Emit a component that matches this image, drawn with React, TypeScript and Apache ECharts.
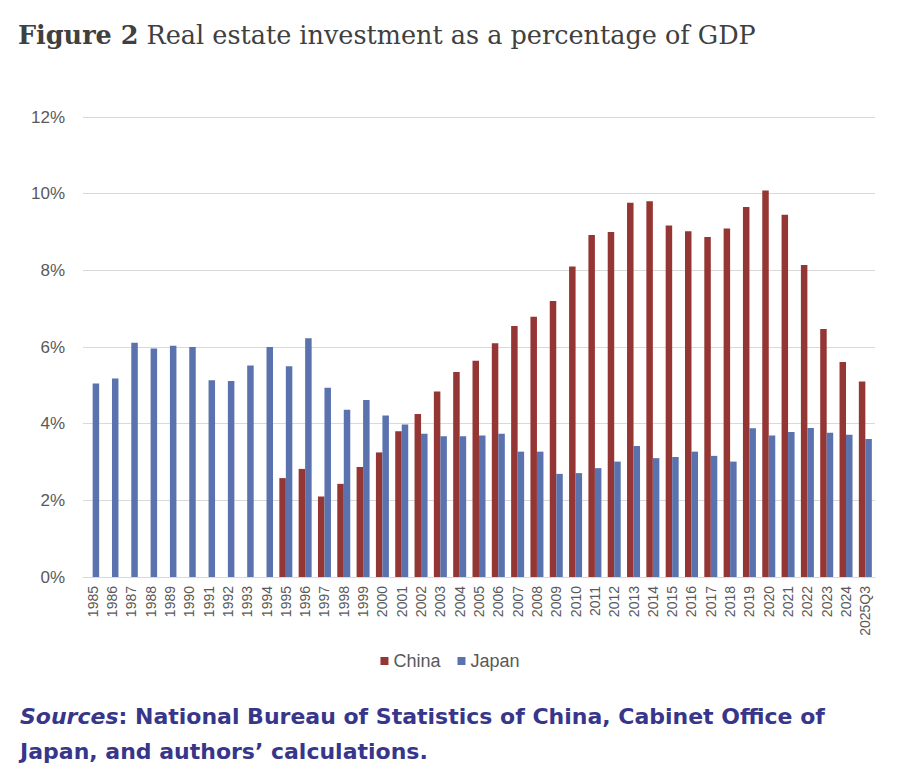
import React, { useEffect, useRef } from "react";
import * as echarts from "echarts";

const categories = [
  "1985", "1986", "1987", "1988", "1989", "1990", "1991", "1992", "1993", "1994",
  "1995", "1996", "1997", "1998", "1999", "2000", "2001", "2002", "2003", "2004",
  "2005", "2006", "2007", "2008", "2009", "2010", "2011", "2012", "2013", "2014",
  "2015", "2016", "2017", "2018", "2019", "2020", "2021", "2022", "2023", "2024",
  "2025Q3",
];

const china: (number | null)[] = [
  null, null, null, null, null, null, null, null, null, null,
  2.58, 2.82, 2.1, 2.43, 2.87, 3.25, 3.8, 4.25, 4.84, 5.35,
  5.64, 6.1, 6.55, 6.79, 7.2, 8.1, 8.92, 9.0, 9.76, 9.8,
  9.17, 9.02, 8.87, 9.09, 9.65, 10.08, 9.45, 8.14, 6.47, 5.61,
  5.1,
];

const japan: number[] = [
  5.05, 5.18, 6.11, 5.96, 6.03, 6.0, 5.13, 5.11, 5.52, 6.0,
  5.5, 6.23, 4.94, 4.36, 4.62, 4.21, 3.98, 3.74, 3.67, 3.67,
  3.69, 3.74, 3.27, 3.27, 2.69, 2.71, 2.84, 3.01, 3.42, 3.1,
  3.13, 3.27, 3.16, 3.01, 3.88, 3.69, 3.78, 3.89, 3.76, 3.71,
  3.6,
];

const yTicks = [0, 2, 4, 6, 8, 10, 12];

export default function App() {
  const ref = useRef<HTMLDivElement>(null);
  useEffect(() => {
    if (!ref.current) return;
    const chart = echarts.init(ref.current, undefined, { renderer: "svg" });
    chart.setOption({
      animation: false,
      backgroundColor: "#ffffff",
      grid: { left: 83, right: 25, top: 117, bottom: 205, containLabel: false },
      legend: {
        data: ["China", "Japan"],
        bottom: 107,
        left: "center",
        itemWidth: 8,
        itemHeight: 8,
        itemGap: 17,
        icon: "rect",
        textStyle: { color: "#595959", fontSize: 18, fontFamily: "Liberation Sans" },
      },
      xAxis: {
        type: "category",
        data: categories,
        axisLine: { lineStyle: { color: "#d9d9d9", width: 1 } },
        axisTick: { show: false },
        axisLabel: {
          rotate: 90,
          interval: 0,
          color: "#595959",
          fontSize: 14,
          fontFamily: "Liberation Sans",
          margin: 9,
        },
      },
      yAxis: {
        type: "value",
        min: yTicks[0],
        max: yTicks[yTicks.length - 1],
        interval: 2,
        axisLine: { show: false },
        axisTick: { show: false },
        splitLine: { lineStyle: { color: "#d9d9d9", width: 1 } },
        axisLabel: {
          formatter: (v: number) => `${v}%`,
          color: "#595959",
          fontSize: 17,
          fontFamily: "Liberation Sans",
          margin: 18,
        },
      },
      series: [
        {
          name: "China",
          type: "bar",
          data: china,
          barWidth: 6.5,
          barGap: "0%",
          itemStyle: { color: "#943634" },
        },
        {
          name: "Japan",
          type: "bar",
          data: japan,
          barWidth: 6.5,
          barGap: "0%",
          itemStyle: { color: "#5a72ad" },
        },
      ],
      graphic: [
        {
          type: "text",
          left: 18,
          top: 22,
          style: {
            text: "{b|Figure 2}{r| Real estate investment as a percentage of GDP}",
            rich: {
              b: { fontFamily: "DejaVu Serif", fontWeight: "bold", fontSize: 25.5, fill: "#404040" },
              r: { fontFamily: "DejaVu Serif", fontSize: 25.5, fill: "#404040" },
            },
          },
        },
        {
          type: "text",
          left: 20,
          top: 699,
          style: {
            text:
              "{i|Sources}{n|: National Bureau of Statistics of China, Cabinet Office of}\n{n|Japan, and authors\u2019 calculations.}",
            lineHeight: 35,
            rich: {
              i: { fontFamily: "DejaVu Sans", fontWeight: "bold", fontStyle: "italic", fontSize: 22, fill: "#37368a", lineHeight: 35 },
              n: { fontFamily: "DejaVu Sans", fontWeight: "bold", fontSize: 22, fill: "#37368a", lineHeight: 35 },
            },
          },
        },
      ],
    });
    return () => chart.dispose();
  }, []);
  return (
    <div
      ref={ref}
      style={{ position: "fixed", left: 0, top: 0, width: 900, height: 782 }}
    />
  );
}
